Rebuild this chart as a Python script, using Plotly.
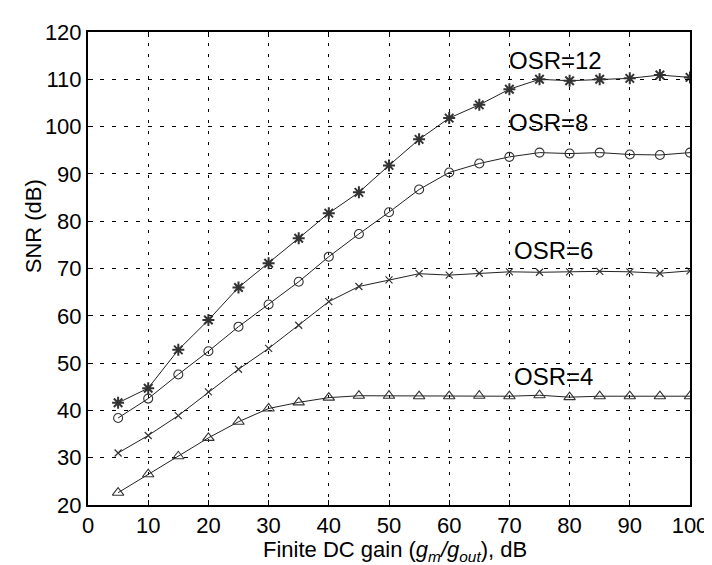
import plotly.graph_objects as go

gain_db = [5, 10, 15, 20, 25, 30, 35, 40, 45, 50, 55, 60, 65, 70, 75, 80, 85, 90, 95, 100]

snr_osr12 = [41.6, 44.7, 52.8, 59.1, 66.0, 71.1, 76.4, 81.7, 86.1, 91.8, 97.3, 101.8, 104.6, 107.9, 110.0, 109.7, 110.0, 110.2, 110.9, 110.4]
snr_osr8 = [38.4, 42.5, 47.6, 52.5, 57.7, 62.4, 67.2, 72.5, 77.3, 81.9, 86.7, 90.3, 92.2, 93.6, 94.5, 94.3, 94.5, 94.1, 94.0, 94.5]
snr_osr6 = [31.0, 34.7, 38.9, 43.9, 48.7, 53.1, 58.0, 63.0, 66.2, 67.6, 68.9, 68.6, 69.0, 69.3, 69.2, 69.3, 69.4, 69.3, 69.0, 69.5]
snr_osr4 = [22.6, 26.5, 30.3, 34.2, 37.6, 40.4, 41.7, 42.7, 43.1, 43.1, 43.0, 43.0, 43.1, 43.0, 43.2, 42.8, 43.0, 43.0, 43.0, 43.0]

series_names = ["OSR=12", "OSR=8", "OSR=6", "OSR=4"]
label_x = [69.6, 69.6, 70.5, 70.5]
label_y = [114.0, 100.8, 73.8, 47.1]

x_ticks = [0, 10, 20, 30, 40, 50, 60, 70, 80, 90, 100]
y_ticks = [20, 30, 40, 50, 60, 70, 80, 90, 100, 110, 120]

FONT = "Liberation Sans, Arial, sans-serif"

fig = go.Figure()
styles = [
    (snr_osr12, "asterisk-open", 10, 2.0),
    (snr_osr8, "circle-open", 9, 1.1),
    (snr_osr6, "x-thin-open", 7, 1.2),
    (snr_osr4, "triangle-up-open", 10, 1.1),
]
for (vals, sym, sz, mlw), name in zip(styles, series_names):
    fig.add_trace(go.Scatter(
        x=gain_db, y=vals, mode="lines+markers", name=name,
        line=dict(color="#222222", width=1),
        marker=dict(symbol=sym, size=sz, color="#333333",
                    line=dict(color="#333333", width=mlw)),
        showlegend=False,
    ))

for name, lx, ly in zip(series_names, label_x, label_y):
    fig.add_annotation(x=lx, y=ly, xref="x", yref="y", text=name,
                       showarrow=False, xanchor="left", yanchor="middle",
                       font=dict(family=FONT, size=24, color="black"))

L, R, T, B = 80, 29, 22, 68
W, H = 712, 565
pw, ph = W - L - R, H - T - B

def px_to_paper(px, py):
    return (px - L) / pw, ((H - py) - B) / ph

tx, ty = px_to_paper(388, 543)
fig.add_annotation(x=tx, y=ty, xref="paper", yref="paper",
                   text="Finite DC gain (<i>g</i><sub><i>m</i></sub><i>/g</i><sub><i>out</i></sub>), dB",
                   showarrow=False, xanchor="center", yanchor="middle",
                   font=dict(family=FONT, size=22, color="black"))
yx, yy = px_to_paper(25, 217)
fig.add_annotation(x=yx, y=yy, xref="paper", yref="paper",
                   text="SNR (dB)", textangle=-90,
                   showarrow=False, xanchor="center", yanchor="middle",
                   font=dict(family=FONT, size=22, color="black"))

axis_common = dict(
    showline=True, linecolor="black", linewidth=2, mirror="ticks",
    ticks="inside", ticklen=5, tickcolor="black", tickwidth=1,
    showgrid=True, gridcolor="black", gridwidth=1,
    zeroline=False,
    tickfont=dict(family=FONT, size=22, color="black"),
)
fig.update_xaxes(range=[0, 100], tickvals=x_ticks, griddash="3px,8px", **axis_common)
fig.update_yaxes(range=[20, 120], tickvals=y_ticks, griddash="4px,8px", **axis_common)

fig.update_layout(
    width=W, height=H,
    margin=dict(l=L, r=R, t=T, b=B),
    plot_bgcolor="white", paper_bgcolor="white",
    font=dict(family=FONT),
)

fig.write_html("out.html")
